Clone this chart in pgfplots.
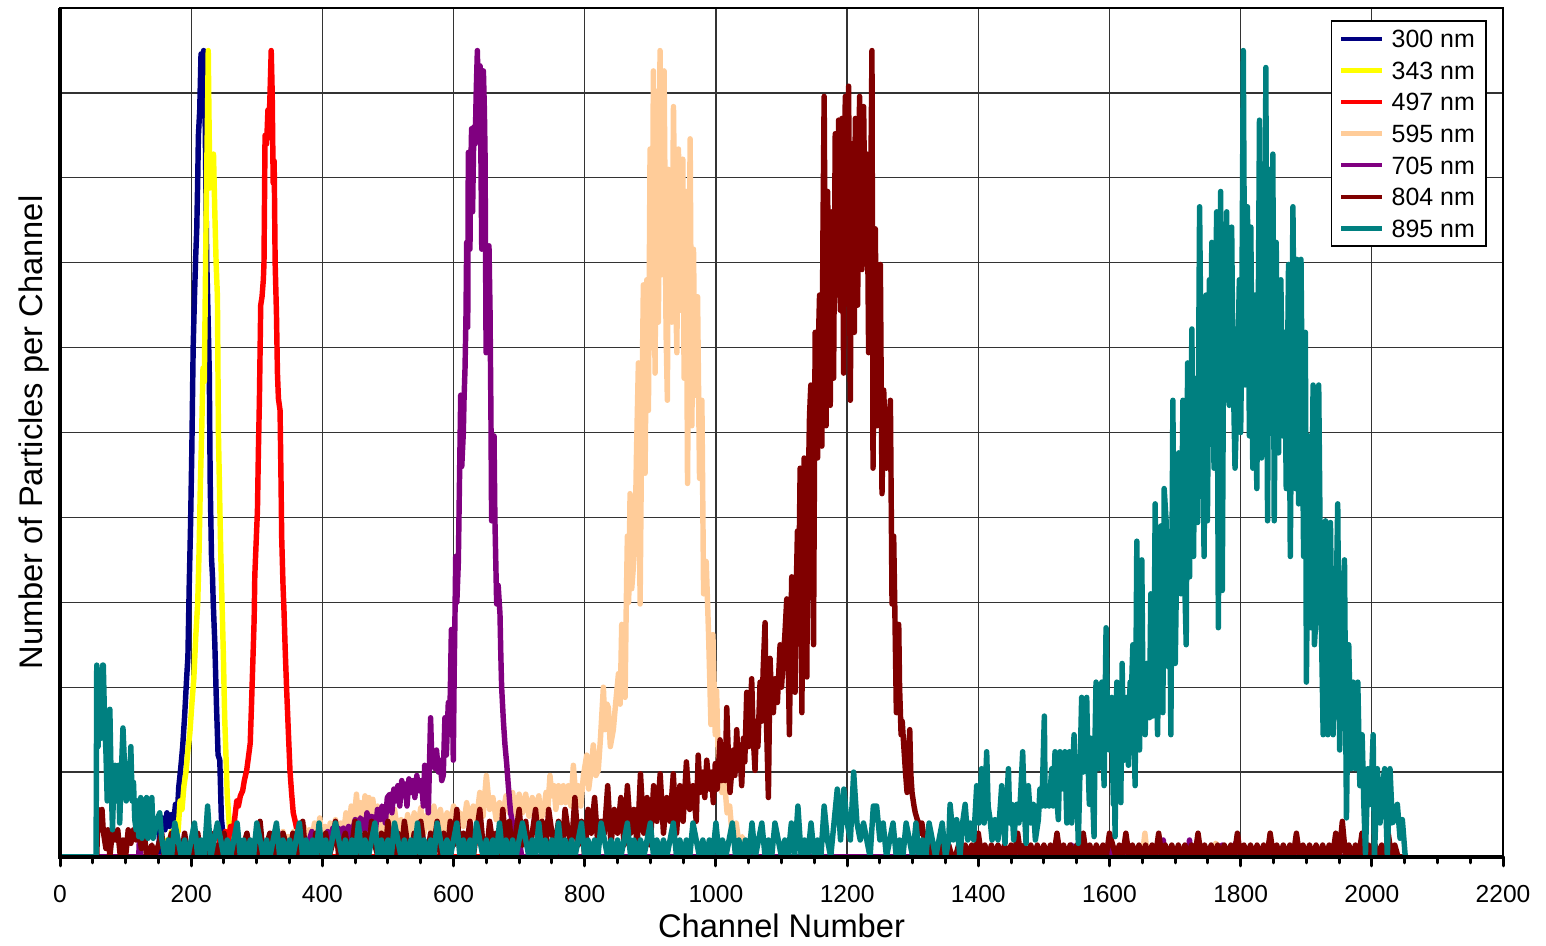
\documentclass[border=0pt]{standalone}
\usepackage{fontspec}
\setmainfont{Liberation Sans}
\usepackage{pgfplots}
\pgfplotsset{compat=1.18}
\definecolor{c300}{RGB}{0,0,128}
\definecolor{c343}{RGB}{255,255,0}
\definecolor{c497}{RGB}{255,0,0}
\definecolor{c595}{RGB}{255,204,153}
\definecolor{c705}{RGB}{128,0,128}
\definecolor{c804}{RGB}{128,0,0}
\definecolor{c895}{RGB}{0,128,128}
\begin{document}
\begin{tikzpicture}
\begin{axis}[
 name=ax,
 scale only axis, width=410.7pt, height=241.6pt,
 xmin=0, xmax=2200, ymin=0, ymax=50,
 xtick={0,200,...,2200}, minor x tick num=3,
 ytick={5,10,...,45}, yticklabels={},
 tick align=outside, xtick pos=bottom, ytick pos=left,
 ytick style={draw=none},
 xtick style={black, line width=0.85pt, line cap=round},
 major tick length=2.56pt, minor tick length=1.71pt,
 xmajorgrids, ymajorgrids,
 major grid style={black!80, line width=0.35pt},
 axis line style={line width=0.55pt},
 /pgf/number format/assume math mode=true,
 /pgf/number format/1000 sep={},
 xticklabel style={font=\fontsize{7}{8}\selectfont, yshift=-2pt},
 xlabel={Channel Number}, ylabel={Number of Particles per Channel},
 label style={font=\fontsize{9.3}{11}\selectfont},
 xlabel style={at={([yshift=-23.05pt]axis description cs:0.5,0)}, anchor=base},
 ylabel style={at={([xshift=-5.1pt]axis description cs:0,0.5)}, anchor=base},
 no markers,
 every axis plot/.append style={line width=1.55pt, line join=round},
 legend cell align=left,
 legend style={at={(1,1)}, anchor=north east, xshift=-4.55pt, yshift=-3.42pt,
   draw=black, line width=0.5pt, fill=white, font=\fontsize{7.1}{8.5}\selectfont,
   inner xsep=2.2pt, inner ysep=1.5pt, row sep=1.9pt,
   /tikz/every odd column/.append style={column sep=1pt},
   nodes={inner sep=1pt, text height=5.1pt, text depth=0pt}},
 legend image code/.code={\draw[#1, line width=1.25pt] (0pt,0pt) -- (11.7pt,0pt);},
]
% 300 nm
\addplot[c300] coordinates {(0,0)(150,0)(152,1.5)(156,2.3)(160,1.6)(163,2.6)(167,1.8)(170,2.5)(173,1.9)(176,3.1)(179,2.6)(181,4.1)(184,5.2)(187,6.5)(190,8.3)(193,10.5)(195,11.8)(197,16)(199,19.5)(201,24)(203,30)(205,33)(207,35.5)(208.5,37)(210,40)(211,42.5)(213,44)(215,47.3)(217,45)(219,47.5)(220.5,46)(222,41)(223.6,35.3)(225,33)(226,31.3)(227.6,28.5)(229,22)(231,17.6)(232.5,16.5)(233.6,15)(236,12.6)(238.5,9)(241,6)(243.6,5.7)(246,2.3)(249.6,0.8)(252,0)(2048,0)};
\addlegendentry{300 nm}
% 343 nm
\addplot[c343] coordinates {(0,0)(160,0)(163,1)(166,0.5)(170,1.5)(174,0.8)(177,2)(180,1.5)(183,3.3)(186,2.8)(189,4.2)(192,5)(195,6.3)(198,7.3)(201,9)(204,10.5)(207,13)(210,15)(212,18)(214,22)(216,25)(218,28.8)(220,28)(222,35)(223.5,40)(225,44)(226,47.5)(227,44)(228.5,39.4)(230,41)(232,40)(234,41.4)(236,38)(238,35)(240,33)(241.5,25)(243,22)(245,18)(247,15)(249,12)(251,8.3)(253,6)(255,3.6)(257,2.5)(259,1.4)(262,0.8)(264,0)(2048,0)};
\addlegendentry{343 nm}
% 497 nm
\addplot[c497] coordinates {(0,0)(240,0)(244,1.2)(248,0.5)(252,1.5)(256,0.8)(260,1.8)(264,1.4)(267,2.5)(269.5,3.3)(272,3)(275,3.6)(278.5,3.9)(281,4.5)(284.6,5.1)(287,5.8)(290,6.7)(292,9)(294,11.5)(296,14)(297,16.6)(299,18.5)(301,20.4)(302.5,24)(304,26.9)(306,32.5)(308,33)(310,34)(311,35)(312.6,42.5)(315,42)(317,44)(319,43.5)(320,44.7)(322,47.5)(323.5,45)(325,39.7)(326.5,41)(328,35)(330,32)(331.5,28.5)(333,27)(335.5,26.3)(337,22)(338,18.8)(340,16)(341.5,14.5)(343.5,12)(345.6,9.8)(348,7.5)(350.6,5.1)(353,3.8)(355.6,2.6)(358,2.2)(360.7,1.7)(363,1.2)(365,0.8)(367,0)(2048,0)};
\addlegendentry{497 nm}
% 595 nm
\addplot[c595] coordinates {(0,0)(180,0)(182,1)(186,0)(250,0)(253,1)(257,0)(300,0)(303,1)(306,0)(330,0)(333,1.2)(337,0.5)(340,1.5)(344,0.6)(348,1.2)(352,0.3)(356,1.5)(360,0.8)(364,1.2)(368,0.4)(372,1.8)(376,0.8)(380,1.6)(384,1)(388,2)(392,1)(396,2.3)(400,1)(404,1.8)(408,1)(412,2)(416,1.2)(420,2.2)(424,1)(428,2)(432,1.3)(436,2.6)(440,1.5)(444,3)(448,2)(452,3.7)(455,2)(458,3.2)(461,1.6)(465,3.6)(468,2.2)(471,3.5)(474,1.8)(477,3.4)(480,2)(484,3)(488,1.5)(492,2.6)(496,1.2)(500,2.4)(505,1.2)(510,2.8)(515,1.5)(520,2.2)(525,1)(530,2.5)(535,1.3)(540,2.6)(545,1.6)(550,2.9)(555,1.4)(560,2.5)(565,1.6)(570,3)(575,1.8)(580,2.8)(585,1.4)(590,2.6)(595,1.8)(600,3)(605,2)(610,2.6)(615,1.8)(620,3.2)(625,2)(630,3)(635,2.2)(640,3.8)(645,2.4)(650,4.8)(655,2.8)(660,3.5)(665,2.2)(670,3.2)(675,2.5)(680,3.6)(685,2.6)(690,3.8)(695,2.5)(700,3.7)(705,2.6)(710,3.7)(715,2.4)(720,3.5)(725,2.8)(730,3.6)(733,2.2)(737,2.6)(741,3.8)(744,3)(747,4.8)(750,3.6)(753,4.2)(756,2.8)(760,4.2)(764,3.2)(767.4,4.2)(771,3.2)(775,4.2)(779,3)(782.6,5.4)(786,3.8)(790,4.2)(794,3)(798,4.8)(803,6)(806,4)(810,5.2)(813,6.6)(817,4.8)(820.6,5.1)(824,7)(828.4,10)(831,7.5)(834,9)(836,8.8)(839,6.5)(843.6,7.5)(847,9)(851.4,10.8)(854,9)(856.4,13.7)(859,11)(861.5,9.4)(863,14)(865,18.9)(867,15)(869.1,21.4)(871.6,15.8)(874,17)(876.7,18.6)(879,24)(881.8,29.1)(884.4,14.9)(887,26)(889.4,33.7)(892,22.6)(894.6,34)(897.1,26.3)(899.6,41.7)(902.2,30)(904.7,46.3)(907.2,28.5)(909.8,45.1)(912.3,31.5)(914.8,47.5)(917.4,34.3)(921,46.3)(924,30.9)(926,26.9)(927.6,40.5)(930,36)(932.7,31.5)(935.3,44.2)(937.8,35.2)(940.4,29.7)(942.9,41.7)(945.5,32.2)(949.5,41.1)(951.5,28.2)(954.6,39.2)(956.7,22)(960.7,42.3)(963.3,25.4)(965.8,35.8)(968.4,27.2)(972,33)(975,22.3)(978.6,26.9)(981.2,15.5)(985.2,17.4)(988.8,13.1)(992.4,7.8)(995.4,13.1)(999,7.2)(1001,9.8)(1004,5.1)(1007,6)(1009,3.8)(1013,4.5)(1017,2.6)(1021,3)(1024,1.6)(1027,1.4)(1031,2)(1035,0.8)(1040,1.2)(1045,0)(1300,0)(1302,1)(1305,0)(1650,0)(1654,1.4)(1658,0)(1760,0)(1762,0.8)(1765,0)(1843,0)(1845,1.4)(1848,0)(2048,0)};
\addlegendentry{595 nm}
% 705 nm
\addplot[c705] coordinates {(0,0)(120,0)(121,1)(123,0)(250,0)(251,1)(253,0)(300,0)(301,1.6)(304,1)(307,0)(330,0)(332,1.5)(335,0)(358,0)(360,1)(363,0)(378,0)(380,1)(384,1.5)(388,0.5)(392,1.2)(396,0.4)(400,1)(404,0.5)(408,1.5)(412,0.8)(416,1.7)(420,1)(425,1.7)(430,1.2)(432,1.7)(436,1.2)(440,1.8)(444,1)(447,1.7)(450,2.2)(454,1.3)(458,2.3)(462,2)(465,1.5)(468,2.6)(472,1.8)(475,2.4)(478,2.3)(481,1.6)(484,2.8)(488,2.2)(491,3)(493,2.9)(496,2)(499,3.5)(503,3.7)(506,2.6)(509,4)(512,3.3)(515,4.2)(518,3)(521,4.5)(524,3.6)(526,4.3)(529,3)(532,4.6)(535,3.8)(538,4.5)(541,3.5)(544,4.8)(547,3.9)(551,4.5)(554,3)(556,5.4)(559,4)(561.5,2.6)(563,5)(565,8.2)(567,5.5)(569,6)(572,5.2)(574,6.3)(577,5)(579.3,5.7)(582,4.5)(584.3,4.8)(586.8,8.2)(589,6)(592,9.1)(594,7.5)(596.7,13.4)(598,10)(599.6,5.7)(601,11)(602,13.7)(603.3,17.7)(605,15)(607.3,17.4)(609,22)(610.9,27.2)(612.5,23)(614.9,25)(616,27)(617.5,28.8)(619,32)(620,36.2)(621.6,31.2)(622.5,41.5)(624,38)(625,35.8)(626,40)(627.5,42.9)(629,38)(631,43)(633,42)(634.5,45)(636.3,47.5)(638,44)(640.4,46.6)(642,40)(643,35.8)(644,42)(645.5,46.3)(647,44)(648,41.4)(649.6,29.7)(651,34)(653,33.7)(654,36)(655.6,32.2)(657,26)(658,19.8)(660,22)(661.7,24.8)(663,20)(665.7,14.9)(668,16)(670.8,14.3)(672,12)(673.3,10)(676,8)(678.4,6.6)(681,5.5)(683.5,4.2)(685,3.5)(687,2.6)(689,2.2)(691,1.7)(694,1.2)(697,1.5)(701,0.8)(704,0)(760,0)(762,1)(765,0)(1540,0)(1542,0.7)(1545,0)(1600,0)(1602,0.7)(1605,0)(1620,0)(1622,0.7)(1625,0)(1680,0)(1682,1)(1685,0)(1720,0)(1722,1)(1725,0)(1770,0)(1772,0.7)(1775,0)(1790,0)(1792,0.8)(1795,0)(2048,0)};
\addlegendentry{705 nm}
% 804 nm
\addplot[c804] coordinates {(0,0)(56,0)(58,2.8)(61,1.6)(64,2.8)(66,1.5)(70,0.5)(73,1.6)(76,0)(80,1.6)(84,1)(88,1.6)(92,0)(96,1)(100,0)(104,1.6)(108,0.8)(112,1.6)(116,1)(120,1.6)(124,0.5)(128,1.6)
(132,0)(140,0.7)(144,0)(150,0.7)(155,1.4)(159,0)(165,0.7)(170,1.4)(174,0)(180,0.7)(185,0)(190,1.4)(195,0)(200,0.7)(205,0)(210,1.4)(215,0)(220,0.7)(225,0)(230,1.4)(235,0)(240,0.7)(245,0)(250,1.4)(255,0)(260,0.7)(265,0)(270,1.4)(275,0)(280,0.7)(285,1.4)(290,0)(295,0.7)(300,0)(305,2.1)(310,0)(315,0.7)(320,1.4)(325,0)(330,0.7)(335,0)(340,1.4)(345,0.7)(350,0)(355,1.4)(360,0)(365,0.7)(370,2.1)(375,0)(380,0.7)(385,0)(390,1.4)(395,0.7)(400,0)(405,1.4)(410,0)(415,0.7)(420,2.1)(425,0)(430,0.7)(435,1.4)(440,0)(445,0.7)(450,2.1)(455,0)(460,0.7)(465,1.4)(470,0)(475,2.1)(480,0.7)(485,0)(490,1.4)(495,0)(500,2.1)(505,0.7)(510,0)(515,1.4)(520,0)(525,2.1)(530,0.7)(535,0)(540,1.4)(545,0)(550,2.1)(555,0.7)(560,0)(565,1.4)(570,0.7)(575,2.1)(580,0)(585,1.4)(590,0)(595,2.1)(600,0.7)(605,2.8)(610,0)(615,1.4)(620,0.7)(625,2.1)(630,0)(635,1.4)(640,2.8)(645,0.7)(650,0)(655,2.1)(660,0.7)(665,1.4)(670,0)(675,2.8)(680,0.7)(685,2.1)(690,0)(695,1.4)(700,2.8)(705,0.7)(710,2.1)(715,0)(720,1.4)(725,2.8)(730,0.7)(735,2.1)(740,0)(745,2.8)(750,1.4)(755,0.7)(760,2.1)(765,0)(770,2.8)(775,1.4)(780,0.7)(785,3.5)(790,0.7)(795,2.1)(800,0)(805,2.8)(810,1.4)(815,3.5)(820,0.7)(825,2.1)(830,1.4)(835,4.2)(840,0.7)(845,2.8)(850,1.4)(855,3.5)(860,0.7)(865,4.2)(870,1.4)(875,2.8)(880,0.7)(885,4.9)(890,1.4)(895,3.5)(900,0.7)(905,4.2)(910,2.1)(915,4.9)(920,1.4)(925,3.5)(930,2.1)(935,4.9)(940,1.4)(945,4.2)(950,2.1)(955,5.6)(960,2.8)(965,4.2)(970,2.1)(973,6)(975.8,3.8)
(980,5)(983,3.5)(986,5.7)(990,4)(993,5)(996,3.2)(999,5.5)(1002,4)(1006.3,6.9)(1009,4.5)(1012,6)(1014,4.5)(1016.5,8.8)(1019,6)(1021.5,3.8)(1024,5)(1026.6,6.3)(1029,4.8)(1031.7,7.5)(1034,5.5)(1036,6.6)(1039.3,4.2)(1042,7)(1044,5.6)(1047,9.7)(1050,6.5)(1052,8)(1054.5,10.5)(1057,7)(1059.6,5.1)(1062,8)(1064,6.5)(1067.3,10.3)(1070,8)(1072,11)(1074.9,13.8)(1077,8)(1080,3.5)(1082.5,11.7)(1085,9)(1087.6,8.5)(1090,10.5)(1093.7,9.1)(1096,11)(1097.8,12.5)(1100,10)(1102.9,11.8)(1105,13)(1108,15.2)(1110,12)(1112,7.2)(1114,13)(1115.6,16.5)(1118,14)(1120.7,9.7)(1122,15)(1124.3,19.2)(1126,15)(1128.4,22.9)(1131,8.5)(1133,18)(1134.5,23.5)(1136,20)(1138.6,10.6)(1140,20)(1142.7,26)(1144.7,27.8)(1146,22)(1148.8,12.5)(1151.3,30.9)(1153,27)(1154.9,23.5)(1156,30)(1158,33.1)(1160,28)(1161.5,24.2)(1163,36)(1165,44.8)(1166.5,35)(1168,25.4)(1170.3,39.2)(1172,33)(1174.3,26.6)(1176.8,38)(1178,35)(1179.4,28.2)(1181.9,42.6)(1183.5,38)(1185.5,33.1)(1187,43.4)(1189.6,32.2)(1192,43.5)(1194.7,28.5)(1197.2,44.8)(1199.8,35.8)(1202.3,45.4)(1204.9,26.9)(1207.4,42)(1209,38)(1211,30.9)(1212.5,43.5)(1216,32.5)(1219,44.8)(1220.5,38)(1222.7,34.6)(1225.2,44.2)(1227.7,35.8)(1230.3,41.4)(1232.8,29.7)(1235.4,36.5)(1237.9,47.5)(1239.5,22.9)(1241,30)(1243,37)(1245.6,25.4)(1248,31)(1250.7,34.9)(1253.2,21.4)(1255.8,27.5)(1258,25)(1259.9,22.9)(1263.4,24.8)(1266,26.9)(1268.5,14.9)(1271,18.9)(1273,14)(1275.1,8.5)(1277,12)(1278.7,13.7)(1280,10)(1282.3,7.2)(1284,8)(1286.3,6.6)(1289,5)(1291.4,3.8)(1293,5.5)(1295.5,7.5)(1297,5)(1299,3.8)(1302,3)(1304,2.6)(1307,2.2)(1309.3,2)(1312,1.4)(1314,2)(1316.9,1.2)(1320,1)(1323,0.5)(1327,0.8)
(1330,0)(1335,0.7)(1340,0)(1345,0.7)(1350,0)(1355,0.7)(1360,0)(1365,0)(1370,0.7)(1375,0)(1380,0.7)(1385,0)(1390,0.7)(1395,0)(1400,1.4)(1405,0)(1410,0.7)(1415,0)(1420,0.7)(1425,0)
(1430,0.7)(1435,0)(1440,0.7)(1445,0)(1450,0.7)(1455,0)(1460,1.4)(1465,0)(1470,0.7)(1475,0)(1480,0.7)(1485,0)(1490,0.7)(1495,0)(1500,0.7)(1505,0)(1510,0.7)(1515,0)(1520,1.4)(1525,0)
(1530,0.7)(1535,0)(1540,0.7)(1545,0)(1550,0.7)(1555,0)(1560,1.4)(1565,0)(1570,0.7)(1575,0)(1580,0.7)(1585,0)(1590,0.7)(1595,0)(1600,1.4)(1605,0.7)(1610,0)(1615,0.7)(1620,0)(1625,1.4)
(1630,0)(1635,0.7)(1640,0)(1645,0.7)(1650,0)(1655,0.7)(1660,0)(1665,0.7)(1670,0)(1675,1.4)(1680,0)(1685,0.7)(1690,0)(1695,0.7)(1700,0)(1705,0.7)(1710,0)(1715,0.7)(1720,0)(1725,0.7)
(1730,0)(1735,1.4)(1740,0)(1745,0.7)(1750,0)(1755,0.7)(1760,0)(1765,0.7)(1770,0)(1775,0.7)(1780,0)(1785,0.7)(1790,0)(1795,1.4)(1800,0)(1805,0.7)(1810,0)(1815,0.7)(1820,0)(1825,0.7)
(1830,0)(1835,0.7)(1840,0)(1845,1.4)(1850,0)(1855,0.7)(1860,0)(1865,0.7)(1870,0)(1875,0.7)(1880,0)(1885,1.4)(1890,0)(1895,0.7)(1900,0)(1905,0.7)(1910,0)(1915,0.7)(1920,0)(1925,0.7)
(1930,0)(1935,0.7)(1940,0)(1945,1.4)(1950,0)(1955,2.1)(1960,0)(1965,0.7)(1970,0)(1975,0.7)(1980,0)(1985,1.4)(1990,0)(1995,0.7)(2000,0)(2005,0.7)(2010,0)(2015,0.7)(2020,0)(2025,1.4)
(2030,0)(2035,0.7)(2040,0)(2048,0)};
\addlegendentry{804 nm}
% 895 nm
\addplot[c895] coordinates {(0,0)(55,0)(56,11.3)(58,6.5)(60,9)(61,10.2)(63,7)(65,11.3)(66,11.3)(68,8)(70,6.2)(72,3.3)(74,5.4)(76,8.7)(78,4.4)(80,1.6)(82,4.4)(84,5.4)(86,3.3)(89,5.4)(91,2)(93,4.4)(96,7.6)(99,4.8)(101,3.3)(104,5.5)(106,4.4)(108,6.5)(110,3.3)(112,4.4)(114,2.2)(116,1.6)(118,3.3)(120,1.2)(123,3.5)(125,1.1)(128,2.2)(130,3.3)(132,3.5)(134,1.1)(137,1.6)(140,3.5)(142,1.1)(145,1.6)(148,2.2)(152,2.6)(155,1.1)
(160,0)(165,1)(170,0)(175,2)(180,1)(185,0)(190,1)(195,0)(200,1)(205,2)(210,0)(215,1)(220,0)(225,3)(230,0)(235,1)(240,2)(245,1)(250,0)(255,1)
(260,0)(265,1)(270,2)(275,0)(280,1)(285,0)(290,1)(295,0)(300,2)(305,1)(310,0)(315,1)(320,0)(325,1)(330,2)(335,0)(340,1)(345,0)(350,1)(355,0)
(360,1)(365,2)(370,0)(375,1)(380,0)(385,1)(390,0)(395,2)(400,0)(405,1)(410,0)(415,1)(420,2)(425,1)(430,0)(435,1)(440,0)(445,1)(450,0)(455,2)
(460,0)(465,1)(470,0)(475,1)(480,2)(485,0)(490,1)(495,0)(500,1)(505,0)(510,2)(515,1)(520,0)(525,1)(530,0)(535,1)(540,0)(545,2)(550,0)(555,1)
(560,0)(565,1)(570,0)(575,2)(580,1)(585,0)(590,1)(595,0)(600,1)(605,2)(610,0)(615,1)(620,0)(625,1)(630,0)(635,2)(640,1)(645,0)(650,1)(655,0)
(660,1)(665,0)(670,2)(675,0)(680,1)(685,0)(690,1)(695,0)(700,1)(705,2)(710,1)(715,0)(720,1)(725,0)(730,2)(735,0)(740,1)(745,0)(750,1)(755,0)
(760,2)(765,0)(770,1)(775,0)(780,1)(785,0)(790,1)(795,2)(800,0)(805,1)(810,0)(815,1)(820,0)(825,2)(830,1)(835,0)(840,1)(845,0)(850,1)(855,0)
(860,1)(865,2)(870,0)(875,1)(880,0)(885,1)(890,0)(895,1)(900,2)(905,0)(910,1)(915,0)(920,1)(925,0)(930,1)(935,2)(940,0)(945,1)(950,0)(955,1)
(960,0)(965,2)(970,1)(975,0)(980,1)(985,0)(990,1)(995,0)(1000,2)(1005,0)(1010,1)(1015,0)(1020,1)(1025,2)(1030,0)(1035,1)(1040,0)(1045,1)(1050,0)(1055,2)
(1060,0)(1065,1)(1070,2)(1075,0)(1080,1)(1085,0)(1090,2)(1095,1)(1100,0)(1105,1)(1110,0)(1115,2)(1120,0)(1125,3)(1130,0)(1135,1)(1140,0)(1145,2)(1150,0)(1155,1)
(1160,0)(1165,3)(1170,1)(1175,0)(1180,2)(1185,4)(1190,1)(1195,4)(1200,2)(1205,1)(1210,5)(1215,2)(1220,1)(1225,2)(1230,1)(1235,0)(1240,3)(1245,3)(1250,1)(1255,2)
(1260,0)(1265,1)(1270,2)(1275,0)(1280,1)(1285,0)(1290,2)(1295,1)(1300,0)(1305,2)(1310,0)(1315,1)(1320,0)(1325,2)(1330,1)(1335,0)(1340,1)(1345,2)(1350,0)(1355,1)
(1357,3.1)(1362,1)(1367,2.2)(1372,0)(1376,2)(1380,3.1)(1384,1)(1388,2)(1393,1)(1397.6,4.2)(1401,2)(1405,5.2)(1409,2)(1412.8,6.2)(1415,3)(1418,2.2)(1421,1)(1425.5,2.2)(1430,1)(1435.7,4.2)(1438,2)(1440.8,0.8)(1443,3)(1446,5.2)(1448,2)(1451,3.1)(1454,1)(1458.5,3.1)(1462,2)(1465,4)(1467.7,6.2)(1470,3)(1472.8,0.8)(1474,3)(1476.3,4.2)(1480,2)(1484,3.1)(1487,1)(1491.6,2.2)(1494,4)(1497,3)(1500.7,8.3)(1502,3)(1504.3,4.2)(1508,3)(1512,5.2)(1514,3)(1517,6.2)(1519,4)(1522,2.2)(1524.6,6.2)(1527,4)(1529,5)(1532,6.2)(1535,2)(1537,5)(1539,6.2)(1542.4,2)(1544,5)(1546,7.2)(1548,4)(1550,4.2)(1552.5,0.8)(1555,5)(1557.6,9.4)(1560,5)(1562,7)(1565.3,9.4)(1567,6)(1569.3,3.1)(1571,7)(1572.9,6.2)(1574,4)(1576.5,1.2)(1578,7)(1579.5,10.3)(1581,6)(1583,5.2)(1585,8)(1588.3,10.3)(1590,7)(1591.8,4.2)(1593,8)(1594.8,13.5)(1597,8)(1600,6.3)(1602,7)(1603.5,9.4)(1605,5)(1606,3.1)(1607,6)(1608.6,1.2)(1610,7)(1611.2,10.3)(1613.7,7.2)(1615,6)(1617.3,3.2)(1619.3,11.4)(1621,7)(1622.3,5.7)(1624,8)(1626.4,9.4)(1628.9,5.4)(1630,8)(1631.5,10.3)(1633,9)(1635.6,12.5)(1637,8)(1639.1,4.2)(1641.7,18.6)(1643,10)(1645.8,6.3)(1647,10)(1649.3,17.5)(1651,10)(1654.4,7.2)(1657,11.4)(1659,9)(1661,8.2)(1663,15.5)(1666,8.3)(1668,12)(1669.7,20.8)(1671,12)(1673.3,7.2)(1675,12)(1676.3,16.5)(1678.4,19.5)(1681.4,8.5)(1683.4,21.7)(1686.5,19.7)(1688,14)(1690,11.2)(1692,15)(1693.6,7.2)(1696.7,26.9)(1698,18)(1700.3,11.4)(1702,16)(1705.4,23.8)(1707,18)(1709,15.5)(1712,26.9)(1714,17.4)(1717,12.5)(1719.1,29.1)(1720.5,20)(1722.2,16.5)(1723.5,24)(1725.7,31.1)(1727,22)(1728.2,17.7)(1730.5,27.8)(1732.3,28.2)(1734.4,19.7)(1737.4,38.3)
(1740,28)(1742,27.8)(1744.2,17.7)(1747.3,33.1)(1749.3,19.8)(1752.4,34)(1754,25)(1756,36.2)(1759.4,22.9)(1761,30)(1763.4,38)(1766,13.5)(1769.5,39.2)(1772,15.7)(1774.6,34.6)(1776,28)(1778.7,38)(1780,30)(1782.7,26.6)(1786.3,37.1)(1788,30)(1791.4,22.9)(1795,27.8)(1798,34)(1800,25)(1801.6,30.3)(1804,47.5)(1806.8,27.8)(1808.5,32)(1810.3,38.3)(1813.4,24.8)(1815.5,37.1)(1818.5,22.9)(1820,28)(1822,33.1)(1824.6,21.7)(1826.5,30)(1828.7,43.4)(1831.8,23.5)(1834.8,33.1)(1836.5,28)(1838.4,46.5)(1841,19.8)(1844,40.5)(1846.5,29.7)(1849.1,41.4)(1851.2,19.8)(1854.2,36.2)(1856,28)(1857.8,23.8)(1861.3,34)(1864.4,24.8)(1867,30.9)(1869.5,21.7)(1873,34.9)(1875.7,17.7)(1879.7,38.3)(1883.3,21.7)(1885.8,35.2)(1888.4,20.8)(1892,35.2)(1896,17.7)(1898.7,30.9)(1900.2,10.3)(1903.8,24.8)(1907.3,13.5)(1910.4,27.8)(1912.5,12.5)(1915.5,14.6)(1919,27.8)(1921.7,16.8)(1925.8,7.2)(1929.3,19.8)(1932.9,7.2)(1936.9,19.7)(1941,7.2)(1944.5,12.5)(1948,20.8)(1951,6.3)(1954.7,14.6)(1958.3,17.5)(1961.3,2.3)(1964.8,12.5)(1968.4,5.2)(1971.4,10.3)(1975,5.2)(1978.6,10.3)(1981.7,4.2)(1985.2,7.2)(1987.8,3.1)(1990.3,0.2)(1994,5.2)(1998,3.1)(2002,7.2)(2004,0)(2008.4,5.2)(2012.5,2)(2016,4.2)(2019.6,5.2)(2023.6,0)(2027.7,5.2)(2031.3,2)(2034.8,2.2)(2038.9,3.1)(2043,1.1)(2046.5,2.2)(2051,0)};
\addlegendentry{895 nm}
\end{axis}
\draw[line width=0.9pt] (ax.north west) -- (ax.south west) -- (ax.south east);
\pgfresetboundingbox
\useasboundingbox (-17.08pt,-25.33pt) rectangle (422.93pt,243.91pt);
\end{tikzpicture}
\end{document}
